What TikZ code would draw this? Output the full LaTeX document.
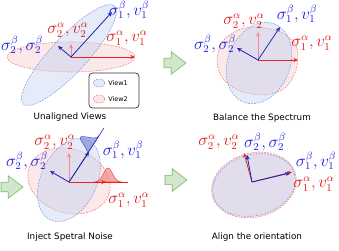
\documentclass[tikz,border=0pt]{standalone}
\usepackage{fontspec}
\newfontfamily\capfont{DejaVu Sans}
\usetikzlibrary{arrows.meta, shapes.arrows}
\definecolor{viewblue}{RGB}{125,155,225}
\definecolor{viewred}{RGB}{235,125,125}
\definecolor{vecblue}{RGB}{30,40,175}
\definecolor{vecred}{RGB}{232,35,35}
\definecolor{vecpink}{RGB}{240,135,145}
\definecolor{labblue}{RGB}{25,25,230}
\definecolor{labred}{RGB}{232,20,20}
\definecolor{stepgreen}{RGB}{125,185,105}

\begin{document}
\begin{tikzpicture}[x=0.03cm, y=-0.03cm,
  blueview/.style={draw=viewblue, dash pattern=on 1.5pt off 1pt, line width=0.45pt, fill=viewblue!45, fill opacity=0.45},
  redview/.style={draw=viewred, dash pattern=on 1.5pt off 1pt, line width=0.45pt, fill=viewred!40, fill opacity=0.45},
  bvec/.style={vecblue, line width=0.7pt, -{Stealth[length=4pt, width=3.5pt]}},
  rvec/.style={vecred, line width=0.7pt, -{Stealth[length=4pt, width=3.5pt]}},
  pvec/.style={vecpink, line width=0.7pt, -{Stealth[length=4pt, width=3.5pt]}},
  bl/.style={text=labblue, font=\fontsize{13.5}{15}\selectfont, inner sep=0pt},
  rl/.style={text=labred, font=\fontsize{13.5}{15}\selectfont, inner sep=0pt},
  caption/.style={font=\capfont\fontsize{7.5}{9}\selectfont, inner sep=0pt},
  stepper/.style={single arrow, draw=stepgreen, fill=stepgreen!35, line width=0.5pt,
    inner sep=3.8pt, outer sep=0pt, minimum height=18.8pt,
    single arrow head extend=5.6pt, single arrow tip angle=75, anchor=tip}]
\useasboundingbox (0,0) rectangle (339,250);

% Unaligned Views
\draw[redview] (71,57) ellipse [x radius=64, y radius=15];
\draw[blueview, rotate around={47:(69,55)}] (69,55) ellipse [x radius=67, y radius=18];
\coordinate (o1) at (71,57);
\coordinate (r1) at (135,57);
\coordinate (p1) at (71,44);
\coordinate (b1) at (112,12);
\coordinate (c1) at (58,46);
\draw[pvec] (o1) -- (p1);
\draw[rvec] (o1) -- (r1);
\draw[bvec] (o1) -- (b1);
\draw[bvec] (o1) -- (c1);
\node[rl] (sa2a) at (68,30) {$\sigma_2^\alpha, v_2^\alpha$};
\node[bl] (sb1a) at (129,10) {$\sigma_1^\beta, v_1^\beta$};
\node[rl] (sa1a) at (127,38) {$\sigma_1^\alpha, v_1^\alpha$};
\node[bl] (sb2a) at (22,45) {$\sigma_2^\beta, \sigma_2^\beta$};
\draw[black!80, line width=0.6pt, rounded corners=3pt, fill=white] (89,73) rectangle (139,108);
\draw[blueview] (99,83) ellipse [x radius=6, y radius=4];
\draw[redview] (99,99) ellipse [x radius=6, y radius=4];
\node[caption, font=\capfont\fontsize{5.5}{6}\selectfont] (view1) at (118,83) {View1};
\node[caption, font=\capfont\fontsize{5.5}{6}\selectfont] (view2) at (118,99) {View2};
\node[caption] (cap1) at (70,117) {Unaligned Views};

% Balance the Spectrum
\draw[redview] plot[smooth cycle] coordinates {(217,62) (222,42) (238,30) (258,27) (283,33) (297,48) (296,70) (285,88) (265,95) (240,91) (223,79)};
\draw[blueview, rotate around={68:(259,63)}] (259,63) ellipse [x radius=42, y radius=31];
\coordinate (o2) at (258,60);
\coordinate (r2) at (298,60);
\coordinate (p2) at (258,32);
\coordinate (b2) at (280,27);
\coordinate (c2) at (237,48);
\draw[pvec] (o2) -- (p2);
\draw[rvec] (o2) -- (r2);
\draw[bvec] (o2) -- (b2);
\draw[bvec] (o2) -- (c2);
\node[rl] (sa2b) at (244,21) {$\sigma_2^\alpha, v_2^\alpha$};
\node[bl] (sb1b) at (297,14) {$\sigma_1^\beta, v_1^\beta$};
\node[rl] (sa1b) at (312,43) {$\sigma_1^\alpha, v_1^\alpha$};
\node[bl] (sb2b) at (215,44) {$\sigma_2^\beta, \sigma_2^\beta$};
\node[caption] (cap2) at (262,118) {Balance the Spectrum};

% Inject Spetral Noise
\draw[redview, rotate around={-18:(69,181)}] (69,181) ellipse [x radius=42, y radius=32];
\draw[blueview, rotate around={65:(69,180)}] (69,180) ellipse [x radius=44, y radius=28];
\coordinate (o3) at (69,182);
\coordinate (r3) at (106,182);
\coordinate (re3) at (128,182);
\coordinate (p3) at (69,153);
\coordinate (b3) at (89,152);
\coordinate (be3) at (104,128);
\coordinate (c3) at (50,171);
\begin{scope}[shift={(108,182)}]
  \filldraw[vecred!80, fill=vecred!55, fill opacity=0.7, line width=0.4pt]
    plot[domain=-14:14, samples=40] (\x, {-14*exp(-\x*\x/40)}) -- cycle;
\end{scope}
\begin{scope}[shift={(93,145.5)}, rotate=56.8]
  \filldraw[vecblue!80, fill=vecblue!55, fill opacity=0.7, line width=0.4pt]
    plot[domain=-11:11, samples=40] (\x, {-15*exp(-\x*\x/32)}) -- cycle;
\end{scope}
\draw[vecred, line width=0.5pt] (o3) -- (re3);
\draw[vecblue, line width=0.5pt] (o3) -- (be3);
\draw[pvec] (o3) -- (p3);
\draw[rvec] (o3) -- (r3);
\draw[bvec] (o3) -- (b3);
\draw[bvec] (o3) -- (c3);
\node[rl] (sa2c) at (55,142) {$\sigma_2^\alpha, v_2^\alpha$};
\node[bl] (sb1c) at (123,150) {$\sigma_1^\beta, v_1^\beta$};
\node[rl] (sa1c) at (129,200) {$\sigma_1^\alpha, v_1^\alpha$};
\node[bl] (sb2c) at (27,161) {$\sigma_2^\beta, \sigma_2^\beta$};
\node[caption] (cap3) at (70,237) {Inject Spetral Noise};

% Align the orientation
\draw[redview, rotate around={15:(254,185)}] (254,185) ellipse [x radius=43, y radius=32];
\draw[blueview, rotate around={15:(254,185)}] (254,185) ellipse [x radius=42, y radius=30.5];
\coordinate (o4) at (252,182);
\coordinate (r4) at (292,172);
\coordinate (p4) at (244,153);
\coordinate (b4) at (290,173);
\coordinate (c4) at (247,155);
\draw[rvec] (o4) -- (r4);
\draw[pvec, vecred] (o4) -- (p4);
\draw[bvec] (o4) -- (b4);
\draw[bvec] (o4) -- (c4);
\node[rl] (sa2d) at (219,142) {$\sigma_2^\alpha, v_2^\alpha$};
\node[bl] (sb2d) at (265,142) {$\sigma_2^\beta, \sigma_2^\beta$};
\node[bl] (sb1d) at (316,161) {$\sigma_1^\beta, v_1^\beta$};
\node[rl] (sa1d) at (314,184) {$\sigma_1^\alpha, v_1^\alpha$};
\node[caption] (cap4) at (257,237) {Align the orientation};

% steps
\node[stepper] (step1) at (186,63) {};
\node[stepper] (step2) at (23,187) {};
\node[stepper] (step3) at (187,180) {};
\end{tikzpicture}
\end{document}
